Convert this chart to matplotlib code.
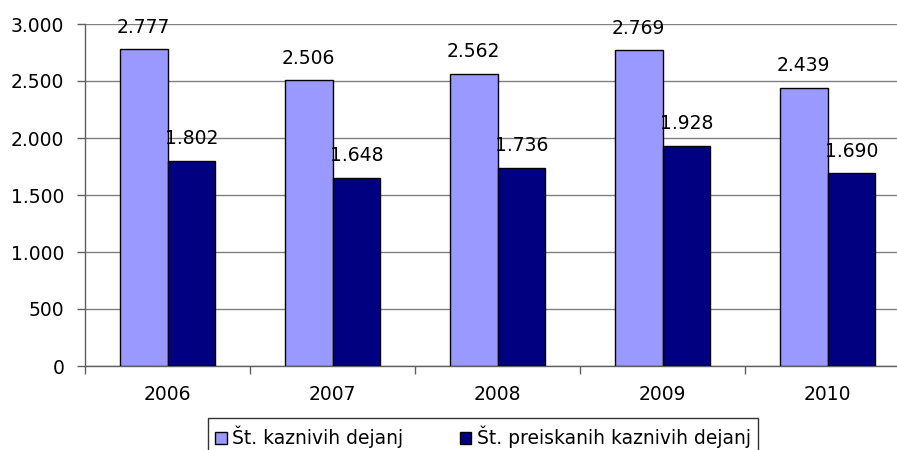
import matplotlib
matplotlib.use("Agg")
import matplotlib.pyplot as plt
from matplotlib.ticker import FuncFormatter, MultipleLocator
from matplotlib.patches import Patch
import numpy as np

plt.rcParams['font.family'] = ['DejaVu Sans']

years = ['2006', '2007', '2008', '2009', '2010']
kaznivih = [2777, 2506, 2562, 2769, 2439]
preiskanih = [1802, 1648, 1736, 1928, 1690]
series_names = ['Št. kaznivih dejanj', 'Št. preiskanih kaznivih dejanj']
colors = ['#9999FF', '#000080']

W, H = 897, 450
fig = plt.figure(figsize=(W / 100, H / 100), dpi=100)
left, right, top, bottom = 85, 910, 24, 366
ax = fig.add_axes([left / W, 1 - bottom / H, (right - left) / W, (bottom - top) / H])

x = np.arange(len(years))
bw = 0.29
b1 = ax.bar(x - bw / 2, kaznivih, bw, color=colors[0], edgecolor='black', linewidth=1, zorder=3)
b2 = ax.bar(x + bw / 2, preiskanih, bw, color=colors[1], edgecolor='black', linewidth=1, zorder=3)

def fmt(v, pos=None):
    return f"{int(v):,}".replace(",", ".")

FS = 13.5
for bars, vals in ((b1, kaznivih), (b2, preiskanih)):
    for r, v in zip(bars, vals):
        ax.annotate(fmt(v), (r.get_x() + r.get_width() / 2, v), xytext=(0, 16),
                    textcoords='offset points', ha='center', va='center', fontsize=FS,
                    zorder=4)

ax.set_xlim(-0.5, len(years) - 0.5)
ax.set_ylim(0, 3000)
ax.yaxis.set_major_locator(MultipleLocator(500))
ax.yaxis.set_major_formatter(FuncFormatter(fmt))
ax.yaxis.grid(True, color='#808080', linewidth=1, zorder=0)
ax.set_xticks(x)
ax.set_xticklabels(years)
ax.set_xticks(np.arange(len(years) + 1) - 0.5, minor=True)
ax.tick_params(axis='x', which='major', length=0, pad=14, labelsize=FS)
ax.tick_params(axis='x', which='minor', length=6, width=1, direction='out', color='#606060')
ax.tick_params(axis='y', length=6, width=1, direction='out', labelsize=FS, pad=9, color='#606060')
for s in ['top', 'right']:
    ax.spines[s].set_visible(False)
for s in ['left', 'bottom']:
    ax.spines[s].set_color('#606060')
    ax.spines[s].set_linewidth(1)

handles = [Patch(facecolor=c, edgecolor='black', linewidth=1) for c in colors]
leg = fig.legend(handles, series_names, loc='center', bbox_to_anchor=(483 / W, 1 - 437 / H),
                 ncol=2, fontsize=FS, frameon=True, fancybox=False, edgecolor='black',
                 handlelength=0.6, handleheight=0.6, handletextpad=0.3, columnspacing=3.0,
                 borderpad=0.4)
leg.get_frame().set_linewidth(1)

fig.savefig('out.png', dpi=100)
